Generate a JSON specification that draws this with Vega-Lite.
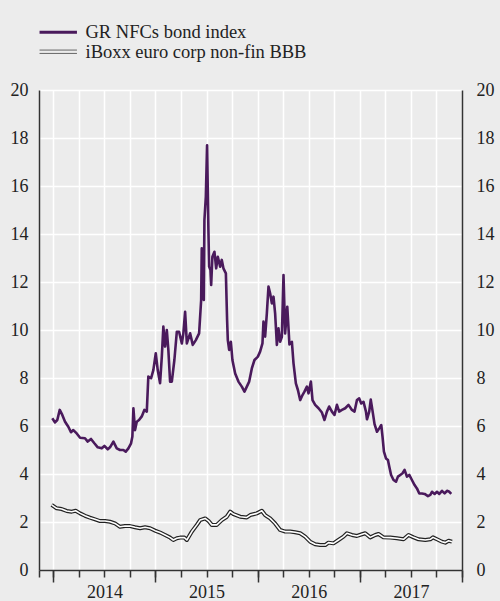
{
  "$schema": "https://vega.github.io/schema/vega-lite/v6.json",
  "autosize": "none",
  "width": 423,
  "height": 480,
  "padding": {"left": 39, "top": 90, "right": 38, "bottom": 31},
  "background": "#ececec",
  "config": {
    "view": {"stroke": null},
    "font": "Liberation Serif",
    "style": {"guide-label": {"font": "Liberation Serif", "fontSize": 18, "fill": "#222222"}},
    "axis": {"labelFont": "Liberation Serif", "labelFontSize": 18, "labelColor": "#222222", "title": null}
  },
  "datasets": {
    "gr": [
      {"year": 2013.990, "value": 6.32}, {"year": 2014.017, "value": 6.15}, {"year": 2014.039, "value": 6.25},
      {"year": 2014.063, "value": 6.67}, {"year": 2014.088, "value": 6.46}, {"year": 2014.115, "value": 6.18},
      {"year": 2014.147, "value": 5.97}, {"year": 2014.173, "value": 5.74}, {"year": 2014.196, "value": 5.83},
      {"year": 2014.229, "value": 5.69}, {"year": 2014.262, "value": 5.51}, {"year": 2014.310, "value": 5.49},
      {"year": 2014.337, "value": 5.35}, {"year": 2014.369, "value": 5.46}, {"year": 2014.402, "value": 5.28},
      {"year": 2014.435, "value": 5.11}, {"year": 2014.474, "value": 5.07}, {"year": 2014.500, "value": 5.17},
      {"year": 2014.533, "value": 5.03}, {"year": 2014.555, "value": 5.11}, {"year": 2014.588, "value": 5.35},
      {"year": 2014.621, "value": 5.07}, {"year": 2014.653, "value": 5.00}, {"year": 2014.686, "value": 5.00},
      {"year": 2014.709, "value": 4.93}, {"year": 2014.735, "value": 5.07}, {"year": 2014.761, "value": 5.28},
      {"year": 2014.774, "value": 5.56}, {"year": 2014.784, "value": 6.74}, {"year": 2014.800, "value": 5.83},
      {"year": 2014.817, "value": 6.18}, {"year": 2014.839, "value": 6.25}, {"year": 2014.866, "value": 6.40},
      {"year": 2014.891, "value": 6.67}, {"year": 2014.915, "value": 6.60}, {"year": 2014.930, "value": 8.06},
      {"year": 2014.957, "value": 7.99}, {"year": 2014.979, "value": 8.33}, {"year": 2015.003, "value": 9.03},
      {"year": 2015.022, "value": 8.33}, {"year": 2015.045, "value": 7.78}, {"year": 2015.062, "value": 8.89},
      {"year": 2015.077, "value": 10.14}, {"year": 2015.094, "value": 9.31}, {"year": 2015.111, "value": 10.00},
      {"year": 2015.126, "value": 9.17}, {"year": 2015.143, "value": 7.85}, {"year": 2015.160, "value": 7.85},
      {"year": 2015.185, "value": 8.75}, {"year": 2015.209, "value": 9.93}, {"year": 2015.231, "value": 9.93},
      {"year": 2015.258, "value": 9.44}, {"year": 2015.273, "value": 9.86}, {"year": 2015.290, "value": 10.76},
      {"year": 2015.307, "value": 9.44}, {"year": 2015.339, "value": 9.86}, {"year": 2015.365, "value": 9.38},
      {"year": 2015.395, "value": 9.58}, {"year": 2015.427, "value": 9.86}, {"year": 2015.447, "value": 11.25},
      {"year": 2015.453, "value": 13.40}, {"year": 2015.473, "value": 11.25}, {"year": 2015.479, "value": 14.58},
      {"year": 2015.493, "value": 15.56}, {"year": 2015.505, "value": 17.70}, {"year": 2015.518, "value": 14.17},
      {"year": 2015.525, "value": 12.64}, {"year": 2015.538, "value": 12.50}, {"year": 2015.545, "value": 11.88},
      {"year": 2015.557, "value": 13.05}, {"year": 2015.577, "value": 13.26}, {"year": 2015.594, "value": 12.57},
      {"year": 2015.610, "value": 13.05}, {"year": 2015.633, "value": 12.64}, {"year": 2015.649, "value": 12.92},
      {"year": 2015.665, "value": 12.57}, {"year": 2015.689, "value": 12.36}, {"year": 2015.701, "value": 10.42},
      {"year": 2015.708, "value": 9.58}, {"year": 2015.721, "value": 9.17}, {"year": 2015.738, "value": 9.51},
      {"year": 2015.753, "value": 8.75}, {"year": 2015.780, "value": 8.19}, {"year": 2015.812, "value": 7.85},
      {"year": 2015.845, "value": 7.64}, {"year": 2015.871, "value": 7.43}, {"year": 2015.894, "value": 7.64},
      {"year": 2015.917, "value": 7.85}, {"year": 2015.943, "value": 8.40}, {"year": 2015.969, "value": 8.75},
      {"year": 2016.002, "value": 8.89}, {"year": 2016.024, "value": 9.10}, {"year": 2016.047, "value": 9.44},
      {"year": 2016.057, "value": 10.35}, {"year": 2016.073, "value": 9.72}, {"year": 2016.090, "value": 10.69},
      {"year": 2016.106, "value": 11.81}, {"year": 2016.122, "value": 11.53}, {"year": 2016.139, "value": 11.11},
      {"year": 2016.155, "value": 11.39}, {"year": 2016.171, "value": 10.69}, {"year": 2016.188, "value": 9.38},
      {"year": 2016.204, "value": 10.07}, {"year": 2016.220, "value": 9.51}, {"year": 2016.237, "value": 9.72},
      {"year": 2016.253, "value": 12.29}, {"year": 2016.269, "value": 9.86}, {"year": 2016.290, "value": 10.97},
      {"year": 2016.311, "value": 9.40}, {"year": 2016.335, "value": 9.51}, {"year": 2016.351, "value": 8.61},
      {"year": 2016.374, "value": 7.78}, {"year": 2016.394, "value": 7.50}, {"year": 2016.416, "value": 7.08},
      {"year": 2016.439, "value": 7.29}, {"year": 2016.458, "value": 7.43}, {"year": 2016.482, "value": 7.64},
      {"year": 2016.498, "value": 7.36}, {"year": 2016.521, "value": 7.85}, {"year": 2016.537, "value": 7.08},
      {"year": 2016.563, "value": 6.88}, {"year": 2016.596, "value": 6.74}, {"year": 2016.629, "value": 6.56},
      {"year": 2016.654, "value": 6.25}, {"year": 2016.678, "value": 6.60}, {"year": 2016.700, "value": 6.81},
      {"year": 2016.727, "value": 6.60}, {"year": 2016.752, "value": 6.46}, {"year": 2016.776, "value": 6.88},
      {"year": 2016.798, "value": 6.60}, {"year": 2016.825, "value": 6.67}, {"year": 2016.857, "value": 6.74},
      {"year": 2016.889, "value": 6.88}, {"year": 2016.923, "value": 6.67}, {"year": 2016.948, "value": 6.60},
      {"year": 2016.972, "value": 7.08}, {"year": 2016.994, "value": 7.15}, {"year": 2017.014, "value": 6.94},
      {"year": 2017.036, "value": 7.01}, {"year": 2017.060, "value": 6.60}, {"year": 2017.070, "value": 6.28},
      {"year": 2017.092, "value": 6.60}, {"year": 2017.107, "value": 7.10}, {"year": 2017.124, "value": 6.64},
      {"year": 2017.144, "value": 6.08}, {"year": 2017.168, "value": 5.76}, {"year": 2017.190, "value": 5.90},
      {"year": 2017.210, "value": 6.04}, {"year": 2017.222, "value": 5.56}, {"year": 2017.236, "value": 4.93},
      {"year": 2017.256, "value": 4.65}, {"year": 2017.275, "value": 4.58}, {"year": 2017.288, "value": 4.31},
      {"year": 2017.306, "value": 3.96}, {"year": 2017.330, "value": 3.75}, {"year": 2017.354, "value": 3.68},
      {"year": 2017.373, "value": 3.89}, {"year": 2017.396, "value": 3.96}, {"year": 2017.418, "value": 4.03},
      {"year": 2017.438, "value": 4.17}, {"year": 2017.461, "value": 3.89}, {"year": 2017.484, "value": 3.96},
      {"year": 2017.510, "value": 3.75}, {"year": 2017.536, "value": 3.54}, {"year": 2017.559, "value": 3.40},
      {"year": 2017.582, "value": 3.19}, {"year": 2017.608, "value": 3.19}, {"year": 2017.634, "value": 3.17},
      {"year": 2017.667, "value": 3.08}, {"year": 2017.690, "value": 3.13}, {"year": 2017.706, "value": 3.26},
      {"year": 2017.732, "value": 3.17}, {"year": 2017.755, "value": 3.26}, {"year": 2017.778, "value": 3.17},
      {"year": 2017.804, "value": 3.30}, {"year": 2017.830, "value": 3.19}, {"year": 2017.853, "value": 3.30},
      {"year": 2017.876, "value": 3.26}, {"year": 2017.895, "value": 3.17}
    ],
    "iboxx": [
      {"year": 2013.984, "value": 2.71}, {"year": 2014.033, "value": 2.57}, {"year": 2014.082, "value": 2.54},
      {"year": 2014.131, "value": 2.46}, {"year": 2014.180, "value": 2.43}, {"year": 2014.219, "value": 2.47},
      {"year": 2014.262, "value": 2.36}, {"year": 2014.310, "value": 2.26}, {"year": 2014.359, "value": 2.18},
      {"year": 2014.408, "value": 2.11}, {"year": 2014.457, "value": 2.04}, {"year": 2014.506, "value": 2.04},
      {"year": 2014.555, "value": 2.01}, {"year": 2014.604, "value": 1.94}, {"year": 2014.653, "value": 1.80},
      {"year": 2014.702, "value": 1.83}, {"year": 2014.751, "value": 1.83}, {"year": 2014.800, "value": 1.78},
      {"year": 2014.849, "value": 1.74}, {"year": 2014.898, "value": 1.78}, {"year": 2014.947, "value": 1.74},
      {"year": 2014.996, "value": 1.64}, {"year": 2015.045, "value": 1.56}, {"year": 2015.094, "value": 1.46},
      {"year": 2015.143, "value": 1.35}, {"year": 2015.175, "value": 1.25}, {"year": 2015.209, "value": 1.32},
      {"year": 2015.241, "value": 1.35}, {"year": 2015.283, "value": 1.35}, {"year": 2015.307, "value": 1.25},
      {"year": 2015.356, "value": 1.60}, {"year": 2015.405, "value": 1.88}, {"year": 2015.437, "value": 2.08},
      {"year": 2015.486, "value": 2.15}, {"year": 2015.518, "value": 2.05}, {"year": 2015.551, "value": 1.88},
      {"year": 2015.600, "value": 1.88}, {"year": 2015.649, "value": 2.08}, {"year": 2015.698, "value": 2.22},
      {"year": 2015.731, "value": 2.43}, {"year": 2015.763, "value": 2.33}, {"year": 2015.829, "value": 2.22},
      {"year": 2015.894, "value": 2.19}, {"year": 2015.927, "value": 2.29}, {"year": 2015.992, "value": 2.36},
      {"year": 2016.041, "value": 2.47}, {"year": 2016.073, "value": 2.29}, {"year": 2016.122, "value": 2.15},
      {"year": 2016.171, "value": 1.94}, {"year": 2016.220, "value": 1.67}, {"year": 2016.269, "value": 1.60},
      {"year": 2016.318, "value": 1.60}, {"year": 2016.367, "value": 1.57}, {"year": 2016.416, "value": 1.53},
      {"year": 2016.465, "value": 1.39}, {"year": 2016.514, "value": 1.18}, {"year": 2016.563, "value": 1.07},
      {"year": 2016.612, "value": 1.04}, {"year": 2016.661, "value": 1.04}, {"year": 2016.693, "value": 1.14},
      {"year": 2016.742, "value": 1.11}, {"year": 2016.791, "value": 1.25}, {"year": 2016.840, "value": 1.39},
      {"year": 2016.874, "value": 1.53}, {"year": 2016.923, "value": 1.46}, {"year": 2016.972, "value": 1.42},
      {"year": 2017.021, "value": 1.49}, {"year": 2017.053, "value": 1.53}, {"year": 2017.102, "value": 1.36},
      {"year": 2017.151, "value": 1.46}, {"year": 2017.183, "value": 1.50}, {"year": 2017.232, "value": 1.36},
      {"year": 2017.298, "value": 1.35}, {"year": 2017.363, "value": 1.32}, {"year": 2017.428, "value": 1.28},
      {"year": 2017.477, "value": 1.46}, {"year": 2017.526, "value": 1.36}, {"year": 2017.575, "value": 1.28},
      {"year": 2017.641, "value": 1.25}, {"year": 2017.690, "value": 1.28}, {"year": 2017.716, "value": 1.36},
      {"year": 2017.755, "value": 1.28}, {"year": 2017.804, "value": 1.18}, {"year": 2017.836, "value": 1.14},
      {"year": 2017.869, "value": 1.22}, {"year": 2017.902, "value": 1.18}
    ]
  },
  "layer": [
    {
      "data": {"name": "iboxx"},
      "mark": {"type": "line", "color": "#222222", "strokeWidth": 4, "strokeJoin": "round"},
      "encoding": {
        "x": {
          "field": "year", "type": "quantitative",
          "scale": {"domain": [2013.86, 2018], "nice": false, "zero": false},
          "axis": {
            "orient": "bottom",
            "values": [2013.86, 2014, 2014.25, 2014.5, 2014.75, 2015, 2015.25, 2015.5, 2015.75, 2016, 2016.25, 2016.5, 2016.75, 2017, 2017.25, 2017.5, 2017.75, 2018],
            "labels": false, "ticks": true, "tickSize": 7, "tickColor": "#333333", "tickWidth": 1.5,
            "domain": true, "domainColor": "#333333", "domainWidth": 1.5,
            "grid": true, "gridColor": "#ffffff", "gridWidth": 1.5, "gridOpacity": 1
          }
        },
        "y": {
          "field": "value", "type": "quantitative",
          "scale": {"domain": [0, 20], "nice": false},
          "axis": {
            "orient": "left", "values": [0, 2, 4, 6, 8, 10, 12, 14, 16, 18, 20],
            "labelFont": "Liberation Serif", "labelFontSize": 18, "labelColor": "#222222",
            "ticks": false, "labelPadding": 11,
            "domain": true, "domainColor": "#333333", "domainWidth": 1.5,
            "grid": true, "gridColor": "#ffffff", "gridWidth": 1.5, "gridOpacity": 1
          }
        }
      }
    },
    {
      "data": {"name": "iboxx"},
      "mark": {"type": "line", "color": "#ffffff", "strokeWidth": 1.6, "strokeJoin": "round"},
      "encoding": {
        "x": {
          "field": "year", "type": "quantitative",
          "axis": {
            "orient": "bottom", "values": [2014, 2015, 2016, 2017, 2018],
            "labels": false, "ticks": true, "tickSize": 12, "tickColor": "#333333", "tickWidth": 1.5,
            "domain": false, "grid": false
          }
        },
        "y": {
          "field": "value", "type": "quantitative",
          "axis": {
            "orient": "right", "values": [0, 2, 4, 6, 8, 10, 12, 14, 16, 18, 20],
            "labelFont": "Liberation Serif", "labelFontSize": 18, "labelColor": "#222222",
            "ticks": false, "labelPadding": 14, "labelAlign": "left",
            "domain": true, "domainColor": "#333333", "domainWidth": 1.5, "grid": false
          }
        }
      }
    },
    {
      "data": {"name": "gr"},
      "mark": {"type": "line", "strokeWidth": 2.6, "strokeJoin": "round"},
      "encoding": {
        "x": {
          "field": "year", "type": "quantitative",
          "axis": {
            "orient": "bottom", "values": [2014.5, 2015.5, 2016.5, 2017.5],
            "labelExpr": "floor(datum.value)", "ticks": false, "labelPadding": 13,
            "labelFont": "Liberation Serif", "labelFontSize": 18, "labelColor": "#222222",
            "domain": false, "grid": false
          }
        },
        "y": {"field": "value", "type": "quantitative", "axis": null},
        "color": {
          "datum": "GR NFCs bond index", "type": "nominal",
          "scale": {"domain": ["GR NFCs bond index", "iBoxx euro corp non-fin BBB"], "range": ["#4a1a5c", "#666666"]},
          "legend": {
            "title": null, "orient": "none", "legendX": 10, "legendY": -67, "padding": 0,
            "direction": "vertical",
            "symbolType": "stroke", "symbolSize": 1400, "symbolStrokeWidth": 3,
            "labelFont": "Liberation Serif", "labelFontSize": 18.5, "labelColor": "#222222",
            "labelLimit": 0, "labelOffset": 18, "rowPadding": 0.5,
            "encode": {
              "symbols": {
                "update": {
                  "shape": {"signal": "datum.value === 'GR NFCs bond index' ? 'stroke' : 'M-1,-0.09H1M-1,0.09H1'"},
                  "strokeWidth": {"signal": "datum.value === 'GR NFCs bond index' ? 3 : 1"}
                }
              }
            }
          }
        }
      }
    }
  ],
  "resolve": {"axis": {"x": "independent", "y": "independent"}}
}
